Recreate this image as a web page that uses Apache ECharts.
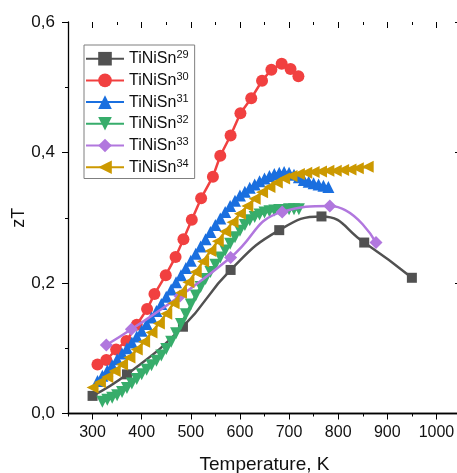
<!DOCTYPE html>
<html>
<head>
<meta charset="utf-8">
<script src="https://cdn.jsdelivr.net/npm/echarts@6/dist/echarts.min.js"></script>
<style>html,body{margin:0;padding:0;background:#fff}#c{width:457px;height:473px}</style>
</head>
<body>
<div id="c"></div>
<script>
// ---- data ----
const seriesNames = ['TiNiSn29','TiNiSn30','TiNiSn31','TiNiSn32','TiNiSn33','TiNiSn34'];
const xTickLabels = [300,400,500,600,700,800,900,1000];
const yTickLabels = [0.0,0.2,0.4,0.6];

const t29 = [300,370,484,581,680,766,853,950];
const z29 = [0.027,0.060,0.133,0.220,0.281,0.302,0.262,0.208];

const t30 = [310,328,348,369,390,411,426,449,469,485,502,521,545,560,581,601,623,645,664,685,703,719];
const z30 = [0.075,0.082,0.098,0.111,0.136,0.160,0.183,0.212,0.240,0.267,0.297,0.330,0.363,0.395,0.426,0.460,0.483,0.510,0.527,0.536,0.528,0.517];

const t31 = [310,320,330,340,350,360,370,380,390,400,410,420,430,440,450,460,470,480,490,500,510,520,530,540,550,560,570,580,590,600,610,620,630,640,650,660,670,680,690,700,710,720,730,740,750,760,770,780];
const z31 = [0.050,0.058,0.066,0.074,0.083,0.092,0.100,0.109,0.118,0.127,0.137,0.147,0.157,0.168,0.179,0.190,0.201,0.212,0.223,0.234,0.245,0.256,0.267,0.278,0.289,0.299,0.309,0.318,0.326,0.334,0.340,0.346,0.351,0.356,0.360,0.364,0.367,0.369,0.370,0.369,0.366,0.362,0.358,0.355,0.353,0.351,0.349,0.347];

const t32 = [320,330,340,350,360,370,380,390,400,410,420,430,440,450,460,470,480,490,500,510,520,530,540,550,560,570,580,590,600,610,620,630,640,650,660,670,680,690,700,710,720];
const z32 = [0.018,0.021,0.024,0.028,0.033,0.039,0.046,0.053,0.060,0.067,0.074,0.081,0.089,0.099,0.110,0.123,0.137,0.152,0.167,0.181,0.194,0.206,0.217,0.228,0.239,0.250,0.260,0.270,0.280,0.289,0.296,0.301,0.305,0.308,0.310,0.311,0.312,0.312,0.313,0.313,0.313];

const t33 = [328,379,478,581,686,783,877];
const z33 = [0.105,0.129,0.180,0.239,0.309,0.318,0.262];

const t34 = [300,315,330,345,360,375,390,405,420,435,450,465,480,495,510,525,540,555,570,585,600,615,630,645,660,675,690,705,720,735,750,765,780,795,810,825,840,860];
const z34 = [0.040,0.048,0.056,0.065,0.075,0.086,0.098,0.110,0.124,0.138,0.153,0.169,0.185,0.201,0.217,0.233,0.249,0.264,0.279,0.293,0.306,0.318,0.329,0.339,0.347,0.354,0.360,0.364,0.367,0.369,0.370,0.371,0.372,0.372,0.373,0.374,0.376,0.378];

// ---- chart ----
const FONT = 'Liberation Sans, Arial, sans-serif';
const colors = ['#515151','#F14040','#1A6FDF','#37AD6B','#B177DE','#CC9900'];
const symbols = ['rect','circle','triangle','triangle','diamond','triangle'];
const rotates = [0,0,0,180,0,90];
const sizes = [10,12,12,12,13,12];
const smooths = [true,false,false,false,true,false];
const xs = [t29,t30,t31,t32,t33,t34];
const ys = [z29,z30,z31,z32,z33,z34];

const series = seriesNames.map((n,i)=>({
  name:n, type:'line', xAxisIndex:0, yAxisIndex:0,
  data: xs[i].map((t,k)=>[t, ys[i][k]]),
  symbol:symbols[i], symbolRotate:rotates[i], symbolSize:sizes[i],
  smooth:smooths[i], showSymbol:true,
  lineStyle:{color:colors[i], width:2.5},
  itemStyle:{color:colors[i]},
  emphasis:{disabled:true}, animation:false, z:2+i
}));

const gridRect = {left:68, top:22, width:393, height:391.5, containLabel:false, outerBoundsMode:'none'};
const axisBlack = {color:'#000', width:1.3};

const option = {
  animation:false,
  textStyle:{fontFamily:FONT},
  grid:[Object.assign({}, gridRect), Object.assign({}, gridRect)],
  legend:{
    orient:'vertical', left:84, top:45,
    padding:[4.7,6,3.3,1],
    itemWidth:38, itemHeight:17, itemGap:4.7,
    borderColor:'#7f7f7f', borderWidth:1, backgroundColor:'#fff',
    data:seriesNames,
    formatter:n=>'{b|'+n.slice(0,6)+'}{s|'+n.slice(6)+'}',
    textStyle:{
      fontFamily:FONT, color:'#111',
      rich:{
        b:{fontSize:16, lineHeight:18, fontFamily:FONT, color:'#111'},
        s:{fontSize:11, lineHeight:11, verticalAlign:'top', fontFamily:FONT, color:'#111'}
      }
    }
  },
  xAxis:[
    { // labels + bottom line (grid 0)
      gridIndex:0, type:'value', position:'bottom', min:250, max:1050, interval:50,
      axisLine:{show:true, lineStyle:axisBlack},
      axisTick:{show:false}, splitLine:{show:false},
      axisLabel:{show:true, fontSize:16, color:'#111', margin:11, fontFamily:FONT,
        formatter:v=> xTickLabels.indexOf(v)>=0 ? String(v) : ''},
      name:'Temperature, K', nameLocation:'middle', nameGap:42, nameMoveOverlap:false,
      nameTextStyle:{fontSize:19, color:'#111', fontFamily:FONT}
    },
    { // top line (grid 0)
      gridIndex:0, type:'value', position:'top', min:250, max:1050, interval:50,
      axisLine:{show:true, lineStyle:axisBlack},
      axisTick:{show:false}, axisLabel:{show:false}, splitLine:{show:false}
    },
    { // bottom ticks (grid 1): ticks at 250,350,...; minor ticks at 300,400,...
      gridIndex:1, type:'value', position:'bottom', min:250, max:1050, interval:100,
      axisLine:{show:false},
      axisTick:{show:true, length:3, inside:false, lineStyle:{color:'#000', width:1}},
      minorTick:{show:true, splitNumber:2, length:6, lineStyle:{color:'#000', width:1}},
      axisLabel:{show:false}, splitLine:{show:false}, minorSplitLine:{show:false}
    },
    { // top ticks (grid 1), inward
      gridIndex:1, type:'value', position:'top', min:250, max:1050, interval:100,
      axisLine:{show:false},
      axisTick:{show:true, length:3, inside:true, lineStyle:{color:'#000', width:1}},
      minorTick:{show:true, splitNumber:2, length:6, lineStyle:{color:'#000', width:1}},
      axisLabel:{show:false}, splitLine:{show:false}, minorSplitLine:{show:false}
    }
  ],
  yAxis:[
    {
      gridIndex:0, type:'value', position:'left', min:0, max:0.6, interval:0.2,
      axisLine:{show:true, lineStyle:axisBlack},
      axisTick:{show:true, length:6, inside:false, lineStyle:{color:'#000', width:1}},
      minorTick:{show:true, splitNumber:2, length:3, lineStyle:{color:'#000', width:1}},
      splitLine:{show:false}, minorSplitLine:{show:false},
      axisLabel:{fontSize:17, color:'#111', margin:13, fontFamily:FONT,
        formatter:v=> yTickLabels.some(t=>Math.abs(t-v)<1e-9) ? v.toFixed(1).replace('.',',') : ''},
      name:'zT', nameLocation:'middle', nameGap:40, nameRotate:90, nameMoveOverlap:false,
      nameTextStyle:{fontSize:18, color:'#111', fontFamily:FONT}
    },
    {
      gridIndex:0, type:'value', position:'right', min:0, max:0.6, interval:0.2,
      axisLine:{show:true, lineStyle:axisBlack},
      axisTick:{show:true, length:6, inside:true, lineStyle:{color:'#000', width:1}},
      minorTick:{show:true, splitNumber:2, length:3, lineStyle:{color:'#000', width:1}},
      splitLine:{show:false}, minorSplitLine:{show:false}, axisLabel:{show:false}
    },
    {
      gridIndex:1, type:'value', position:'left', min:0, max:0.6, show:false
    }
  ],
  series: series
};

const chart = echarts.init(document.getElementById('c'), null, {renderer:'canvas'});
chart.setOption(option);
</script>
</body>
</html>
